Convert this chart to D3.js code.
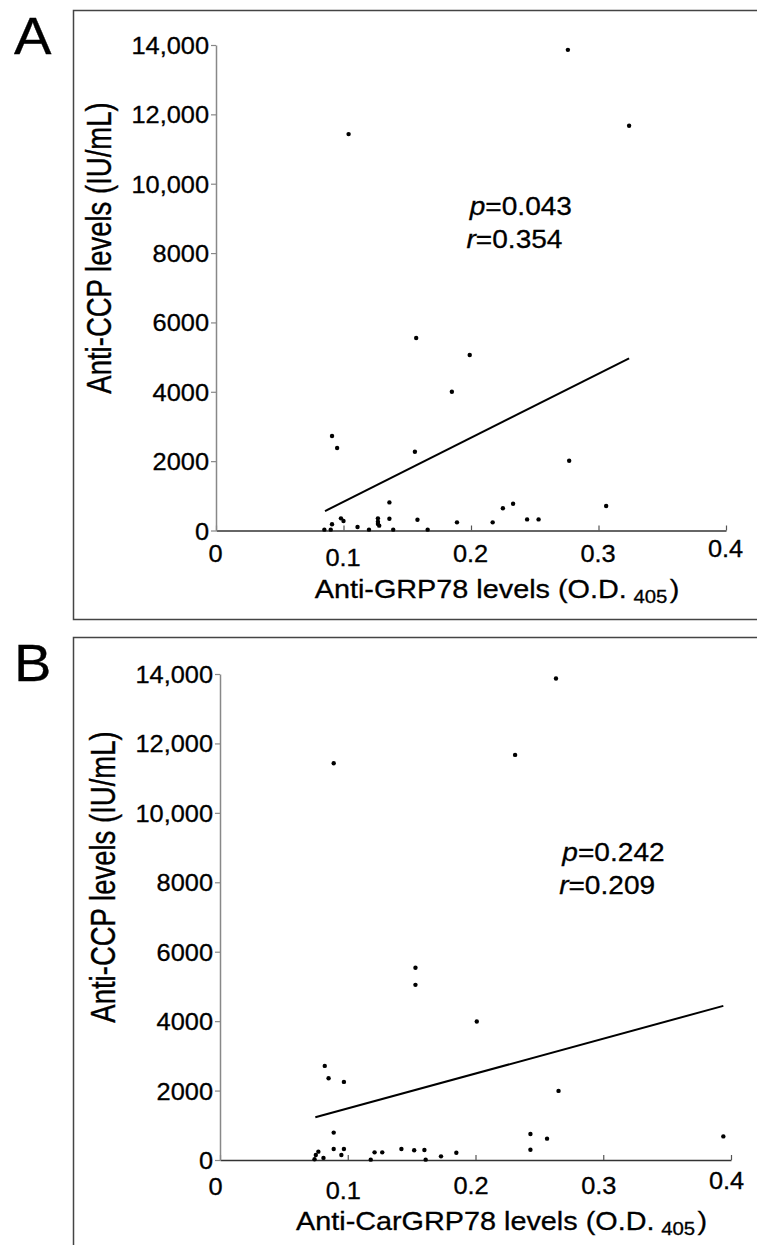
<!DOCTYPE html>
<html>
<head>
<meta charset="utf-8">
<script src="https://cdn.jsdelivr.net/npm/d3@7"></script>
<style>
  body { margin: 0; background: #fff; }
  svg { display: block; }
  text { font-family: "Liberation Sans", Arial, sans-serif; fill: #000; stroke: #000; stroke-width: 0.3; }
</style>
</head>
<body>
<svg id="fig" width="757" height="1245"></svg>
<script>
// ---- data ----
const xTicks = [0, 0.1, 0.2, 0.3, 0.4];
const yTicks = [0, 2000, 4000, 6000, 8000, 10000, 12000, 14000];

// panel A: anti-GRP78 (O.D.) vs anti-CCP (IU/mL)
const grpX = [0.276, 0.104, 0.324, 0.157, 0.199, 0.185, 0.091, 0.095, 0.156, 0.277,
              0.136, 0.225, 0.233, 0.306, 0.098, 0.100, 0.091, 0.085, 0.090, 0.111,
              0.120, 0.127, 0.127, 0.127, 0.128, 0.136, 0.139, 0.158, 0.166, 0.189,
              0.217, 0.244, 0.253];
const grpY = [13860, 11430, 11670, 5550, 5060, 4000, 2725, 2380, 2270, 2010,
              810, 640, 770, 705, 350, 275, 180, 25, 25, 100,
              25, 350, 255, 190, 140, 340, 25, 310, 25, 235,
              235, 320, 320];
const fitAX = [0.0855, 0.324];
const fitAY = [560, 4966];
const statsA = ['0.043', '0.354'];

// panel B: anti-CarGRP78 (O.D.) vs anti-CCP (IU/mL)
const carX = [0.263, 0.089, 0.231, 0.153, 0.153, 0.201, 0.082, 0.085, 0.097, 0.265,
              0.089, 0.243, 0.256, 0.394, 0.077, 0.075, 0.074, 0.081, 0.089, 0.095,
              0.097, 0.118, 0.121, 0.127, 0.142, 0.152, 0.160, 0.161, 0.173, 0.185,
              0.243];
const carY = [13870, 11430, 11670, 5540, 5045, 3990, 2710, 2355, 2250, 1990,
              790, 750, 615, 680, 240, 145, 20, 60, 315, 145,
              315, 10, 220, 220, 315, 280, 290, 10, 105, 210,
              295];
const fitBX = [0.0746, 0.394];
const fitBY = [1230, 4440];
const statsB = ['0.242', '0.209'];

// ---- drawing ----
const svg = d3.select('#fig');
const SX = 1.08;                       // the source figure is a little stretched horizontally
const fmtY = d => d >= 10000 ? d3.format(',')(d) : String(d);
const fmtX = d => d === 0 ? '0' : d3.format('.1f')(d);
const xLabelDrop = [31.5, 35.5, 31, 31, 26];   // uneven baseline of x tick labels

const panels = [
  { letter: 'A', top: 10.5, bottom: 619.5, xRange: [216, 726], yRange: [530.5, 45],
    xs: grpX, ys: grpY, fx: fitAX, fy: fitAY, stats: statsA, statsAt: [0.199, 9100],
    xTitle: 'Anti-GRP78 levels (O.D.', labelDx: -1, dropShift: 0, titleDrop: 67.5 },
  { letter: 'B', top: 637.5, bottom: 1300, xRange: [220, 731], yRange: [1160, 674],
    xs: carX, ys: carY, fx: fitBX, fy: fitBY, stats: statsB, statsAt: [0.268, 8600],
    xTitle: 'Anti-CarGRP78 levels (O.D.', labelDx: -5, dropShift: 3, titleDrop: 70 }
];

panels.forEach(drawPanel);

function drawPanel(p) {
  const g = svg.append('g');

  // frame (right and lower edges run past the picture)
  g.append('rect')
    .attr('x', 73.5).attr('y', p.top)
    .attr('width', 720).attr('height', p.bottom - p.top)
    .attr('fill', 'none').attr('stroke', '#444').attr('stroke-width', 1.5);

  g.append('text')
    .attr('transform', `translate(14,${p.top + 43}) scale(1.08,1)`)
    .style('font-size', '52px')
    .text(p.letter);

  const x = d3.scaleLinear().domain([0, 0.4]).range(p.xRange);
  const y = d3.scaleLinear().domain([0, 14000]).range(p.yRange);

  // x axis: ticks point inward
  const xAxis = g.append('g')
    .attr('transform', `translate(0,${p.yRange[0]})`)
    .call(d3.axisBottom(x).tickValues(xTicks).tickSize(-5).tickSizeOuter(0).tickFormat(fmtX));
  xAxis.select('.domain').attr('stroke', '#333').attr('stroke-width', 1.5);
  xAxis.selectAll('.tick line').attr('stroke', '#555').attr('stroke-width', 1.2);
  xAxis.selectAll('text')
    .attr('y', 0).attr('dy', 0)
    .attr('transform', (d, i) => `translate(${p.labelDx},${xLabelDrop[i] + p.dropShift}) scale(${SX},1)`)
    .style('font-size', '23.5px').attr('font-family', null);

  // y axis: ticks point outward
  const yAxis = g.append('g')
    .attr('transform', `translate(${p.xRange[0]},0)`)
    .call(d3.axisLeft(y).tickValues(yTicks).tickSize(5).tickSizeOuter(0).tickFormat(fmtY));
  yAxis.select('.domain').attr('stroke', '#888').attr('stroke-width', 1.5);
  yAxis.selectAll('.tick line').attr('stroke', '#888').attr('stroke-width', 1.2);
  yAxis.selectAll('text')
    .attr('x', 0).attr('dy', 0)
    .attr('transform', `translate(-7,8.5) scale(${SX},1)`)
    .style('font-size', '23.5px').attr('font-family', null);

  // axis titles
  const xt = g.append('text')
    .attr('text-anchor', 'middle')
    .attr('transform', `translate(${(p.xRange[0] + p.xRange[1]) / 2 + 26},${p.yRange[0] + p.titleDrop}) scale(1.13,1)`)
    .style('font-size', '25.5px');
  xt.append('tspan').text(p.xTitle);
  xt.append('tspan').attr('dx', 6).attr('dy', 5).style('font-size', '18px').text('405');
  xt.append('tspan').attr('dx', 2).attr('dy', -5).text(')');

  g.append('text')
    .attr('text-anchor', 'middle')
    .attr('transform', `translate(${p.xRange[0] - 105},${p.yRange[1] + 203}) scale(1.28,1) rotate(-90)`)
    .style('font-size', '27.5px')
    .text('Anti-CCP levels (IU/mL)');

  // regression line
  g.append('path')
    .attr('d', d3.line().x(d => x(d[0])).y(d => y(d[1]))(d3.zip(p.fx, p.fy)))
    .attr('fill', 'none').attr('stroke', '#000').attr('stroke-width', 2);

  // points
  g.append('g').selectAll('circle')
    .data(d3.zip(p.xs, p.ys))
    .join('circle')
    .attr('cx', d => x(d[0])).attr('cy', d => y(d[1]))
    .attr('r', 2.2).attr('fill', '#000');

  // p and r
  const st = g.append('g')
    .attr('transform', `translate(${x(p.statsAt[0])},${y(p.statsAt[1])}) scale(1.08,1)`);
  const pt = st.append('text').style('font-size', '26px');
  pt.append('tspan').style('font-style', 'italic').text('p');
  pt.append('tspan').text('=' + p.stats[0]);
  const rt = st.append('text').attr('x', -3).attr('y', 33).style('font-size', '26px');
  rt.append('tspan').style('font-style', 'italic').text('r');
  rt.append('tspan').text('=' + p.stats[1]);
}
</script>
</body>
</html>
